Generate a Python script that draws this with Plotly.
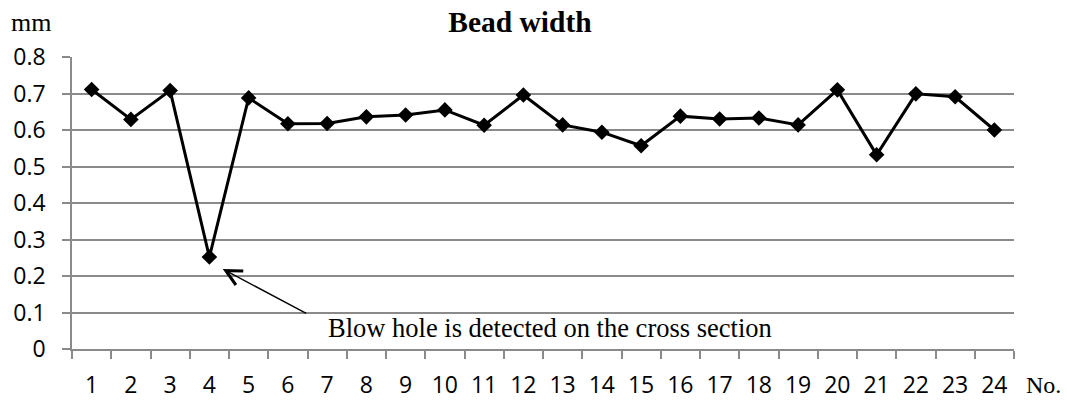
import plotly.graph_objects as go

sample_no = [str(i) for i in range(1, 25)]
bead_width = [0.711, 0.629, 0.708, 0.252, 0.688, 0.617, 0.618, 0.636, 0.641, 0.655,
              0.613, 0.696, 0.614, 0.594, 0.557, 0.638, 0.630, 0.633, 0.614, 0.710,
              0.532, 0.699, 0.691, 0.600]
y_ticks = [0, 0.1, 0.2, 0.3, 0.4, 0.5, 0.6, 0.7, 0.8]
y_tick_text = ["0", "0.1", "0.2", "0.3", "0.4", "0.5", "0.6", "0.7", "0.8"]

GRID = "#8a8a8a"
SERIF = "Liberation Serif, Times New Roman, serif"
SANS = "Open Sans, sans-serif"

W, H = 1067, 401

fig = go.Figure()
fig.add_trace(go.Scatter(
    x=sample_no, y=bead_width, mode="lines+markers",
    line=dict(color="black", width=3),
    marker=dict(symbol="diamond", size=12, color="black"),
    showlegend=False,
))

fig.update_layout(
    width=W, height=H,
    margin=dict(l=72, r=53, t=57, b=52, autoexpand=False),
    paper_bgcolor="white", plot_bgcolor="white",
    title=dict(text="<b>Bead width</b>", x=520/W, xanchor="center",
               y=1 - 22/H, yanchor="middle", yref="container", xref="container",
               font=dict(family=SERIF, size=29.5, color="black")),
    xaxis=dict(
        type="category", tickson="boundaries", ticks="outside", ticklen=8,
        range=[-0.5, len(sample_no) - 0.5], automargin=False,
        tickcolor=GRID, tickwidth=1.5, showline=True, linecolor=GRID, linewidth=1.5,
        showgrid=False, zeroline=False, ticklabelstandoff=15,
        tickfont=dict(family=SANS, size=23, color="black"),
    ),
    yaxis=dict(
        range=[0, 0.8], tickvals=y_ticks, ticktext=y_tick_text, automargin=False,
        ticks="outside", ticklen=8, tickcolor=GRID, tickwidth=1.5,
        showline=True, linecolor=GRID, linewidth=1.5,
        showgrid=True, gridcolor=GRID, gridwidth=1.5, zeroline=False,
        ticklabelstandoff=12,
        tickfont=dict(family=SANS, size=23, color="black"),
    ),
)

fig.add_annotation(text="mm", xref="paper", yref="paper", x=(31-72)/942, y=(349-22)/292,
                   showarrow=False, xanchor="center", yanchor="middle",
                   font=dict(family=SERIF, size=26, color="black"))
fig.add_annotation(text="No.", xref="paper", yref="paper", x=(1043-72)/942, y=(349-385)/292,
                   showarrow=False, xanchor="center", yanchor="middle",
                   font=dict(family=SERIF, size=24, color="black"))
fig.add_annotation(text="Blow hole is detected on the cross section", xref="paper", yref="paper",
                   x=(550-72)/942, y=(349-328)/292, showarrow=False,
                   xanchor="center", yanchor="middle",
                   font=dict(family=SERIF, size=26.5, color="black"))
fig.add_annotation(text="", x=3.34, y=0.219, xref="x", yref="y",
                   showarrow=True, ax=85, ay=45, axref="pixel", ayref="pixel",
                   arrowhead=5, arrowsize=2.2, arrowwidth=1.4, arrowcolor="black",
                   standoff=0)

# remove the browser's default 8px body margin so the figure fills the window exactly
fig.write_html("out.html", config={"displayModeBar": False},
               post_script="document.body.style.margin='0';")
